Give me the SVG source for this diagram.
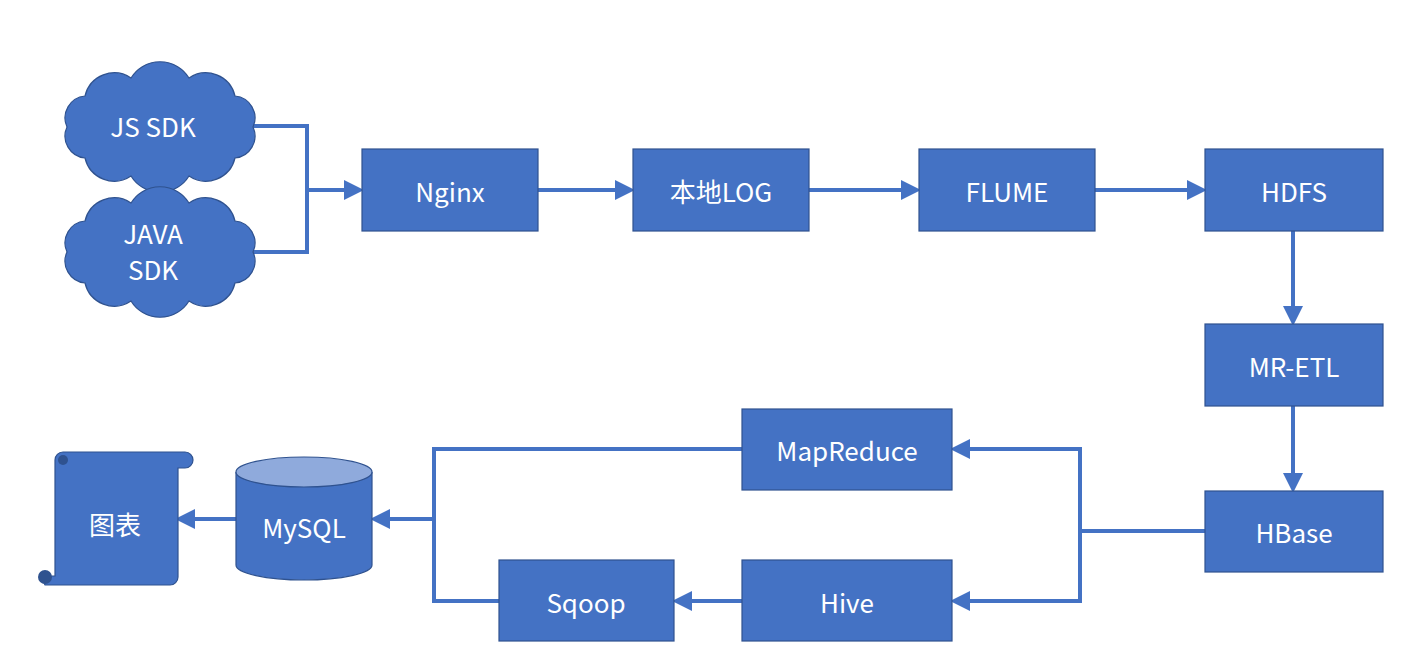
<svg xmlns="http://www.w3.org/2000/svg" width="1401" height="657" viewBox="0 0 1401 657">
<defs>
<style>
.n{fill:#4472C4;stroke:#2F528F;stroke-width:1.2}
.t{fill:#fff;font-family:"Noto Sans CJK SC","Noto Sans",sans-serif;font-size:26px;text-anchor:middle;dominant-baseline:central}
.c{fill:none;stroke:#4472C4;stroke-width:4}
</style>
<marker id="a" markerWidth="5" markerHeight="5" refX="2.5" refY="2.5" orient="auto" markerUnits="strokeWidth"><path d="M0,0L5,2.5L0,5z" fill="#4472C4"/></marker>
<path id="cloud" d="M253,127 A22,22 0 0 1 235,158 A30,30 0 0 1 189,176 A34,34 0 0 1 131,176 A30,30 0 0 1 85,158 A22,22 0 0 1 67,127 A22,22 0 0 1 85,96 A30,30 0 0 1 131,78 A34,34 0 0 1 189,78 A30,30 0 0 1 235,96 A22,22 0 0 1 253,127Z"/>
</defs>
<rect width="1401" height="657" fill="#fff"/>
<g id="connectors">
<path class="c" d="M253,126H307V252H253"/>
<path class="c" d="M307,190H354" marker-end="url(#a)"/>
<path class="c" d="M538,190H625" marker-end="url(#a)"/>
<path class="c" d="M809,190H911" marker-end="url(#a)"/>
<path class="c" d="M1095,190H1197" marker-end="url(#a)"/>
<path class="c" d="M1293,231V316" marker-end="url(#a)"/>
<path class="c" d="M1293,406V483" marker-end="url(#a)"/>
<path class="c" d="M1205,531H1080V449H960" marker-end="url(#a)"/>
<path class="c" d="M1080,531V601H960" marker-end="url(#a)"/>
<path class="c" d="M742,601H682" marker-end="url(#a)"/>
<path class="c" d="M742,449H434V601H499"/>
<path class="c" d="M434,519H380" marker-end="url(#a)"/>
<path class="c" d="M236,519H185" marker-end="url(#a)"/>
</g>
<g id="js"><use href="#cloud" class="n"/><text class="t" x="153" y="125">JS SDK</text></g>
<g id="java"><use href="#cloud" class="n" transform="translate(0,125)"/><text class="t" x="153" y="232">JAVA</text><text class="t" x="153" y="268">SDK</text></g>
<g id="nginx"><rect class="n" x="362" y="149" width="176" height="82"/><text class="t" x="450" y="190">Nginx</text></g>
<g id="log"><rect class="n" x="633" y="149" width="176" height="82"/><text class="t" x="721" y="190">本地LOG</text></g>
<g id="flume"><rect class="n" x="919" y="149" width="176" height="82"/><text class="t" x="1007" y="190">FLUME</text></g>
<g id="hdfs"><rect class="n" x="1205" y="149" width="178" height="82"/><text class="t" x="1294" y="190">HDFS</text></g>
<g id="mretl"><rect class="n" x="1205" y="324" width="178" height="82"/><text class="t" x="1294" y="365">MR-ETL</text></g>
<g id="hbase"><rect class="n" x="1205" y="491" width="178" height="81"/><text class="t" x="1294" y="531">HBase</text></g>
<g id="mapreduce"><rect class="n" x="742" y="409" width="210" height="81"/><text class="t" x="847" y="449">MapReduce</text></g>
<g id="hive"><rect class="n" x="742" y="560" width="210" height="81"/><text class="t" x="847" y="601">Hive</text></g>
<g id="sqoop"><rect class="n" x="499" y="560" width="175" height="81"/><text class="t" x="586" y="601">Sqoop</text></g>
<g id="mysql">
<path class="n" d="M236,472V565A68,15 0 0 0 372,565V472"/>
<ellipse cx="304" cy="472" rx="68" ry="15" fill="#8FAADC" stroke="#2F528F" stroke-width="1.2"/>
<text class="t" x="304" y="526">MySQL</text>
</g>
<g id="chart">
<path class="n" d="M55,460V576H45A8,8 0 0 0 45,585H170A8,8 0 0 0 178,577V468H185A8,8 0 0 0 185,452H63A8,8 0 0 0 55,460Z"/>
<circle cx="63" cy="460" r="5" fill="#2F528F"/>
<circle cx="45" cy="577" r="7" fill="#2F528F"/>
<text class="t" x="115" y="523">图表</text>
</g>
</svg>
